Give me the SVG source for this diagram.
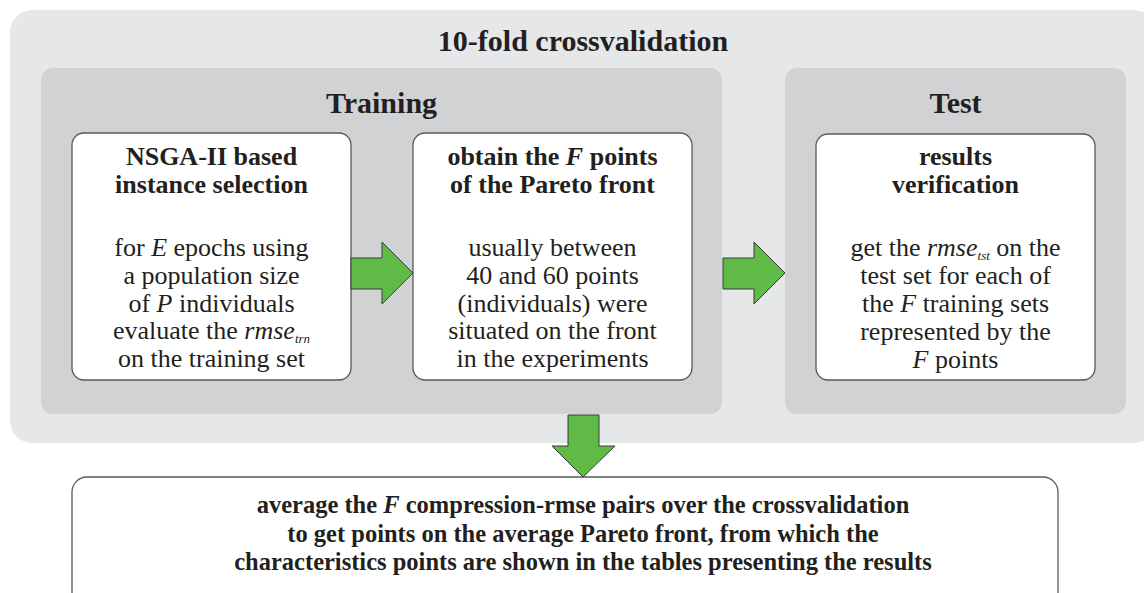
<svg xmlns="http://www.w3.org/2000/svg" width="1144" height="593" viewBox="0 0 1144 593">
<style>
  .outer { fill: #e6e7e8; }
  .panel { fill: #d1d2d4; }
  .box { fill: #ffffff; stroke: #58595b; stroke-width: 1.3; }
  .arrow { fill: #5fba46; stroke: #3a3a3a; stroke-width: 1; stroke-linejoin: miter; }
  text { font-family: "Liberation Serif", "Times New Roman", serif; fill: #231f20; text-anchor: middle; }
  .h1 { font-size: 30px; font-weight: bold; }
  .bt { font-size: 26px; font-weight: bold; }
  .bd { font-size: 26px; }
  .bb { font-size: 24.5px; font-weight: bold; }
  .it { font-style: italic; }
  .sub { font-size: 13px; font-style: italic; }
</style>
<rect class="outer" x="10" y="10" width="1146" height="433" rx="22"/>
<text class="h1" x="583" y="51">10-fold crossvalidation</text>

<g id="training">
  <rect class="panel" x="41" y="68" width="681" height="346" rx="12"/>
  <text class="h1" x="381.5" y="113">Training</text>
</g>
<g id="test">
  <rect class="panel" x="785" y="68" width="341" height="346" rx="12"/>
  <text class="h1" x="955.5" y="113">Test</text>
</g>

<g id="nsga">
  <rect class="box" x="72" y="133" width="279" height="247" rx="12"/>
  <text class="bt" x="211.5" y="165">NSGA-II based</text>
  <text class="bt" x="211.5" y="193">instance selection</text>
  <text class="bd" x="211.5" y="256">for <tspan class="it">E</tspan> epochs using</text>
  <text class="bd" x="211.5" y="284">a population size</text>
  <text class="bd" x="211.5" y="311.5">of <tspan class="it">P</tspan> individuals</text>
  <text class="bd" x="211.5" y="339">evaluate the <tspan class="it">rmse</tspan><tspan class="sub" dy="4">trn</tspan></text>
  <text class="bd" x="211.5" y="367">on the training set</text>
</g>

<g id="pareto">
  <rect class="box" x="413" y="133" width="279" height="247" rx="12"/>
  <text class="bt" x="552.5" y="165">obtain the <tspan class="it">F</tspan> points</text>
  <text class="bt" x="552.5" y="193">of the Pareto front</text>
  <text class="bd" x="552.5" y="256">usually between</text>
  <text class="bd" x="552.5" y="284">40 and 60 points</text>
  <text class="bd" x="552.5" y="311.5">(individuals) were</text>
  <text class="bd" x="552.5" y="339">situated on the front</text>
  <text class="bd" x="552.5" y="367">in the experiments</text>
</g>

<g id="verification">
  <rect class="box" x="816" y="134" width="279" height="246" rx="12"/>
  <text class="bt" x="955.5" y="165">results</text>
  <text class="bt" x="955.5" y="193">verification</text>
  <text class="bd" x="955.5" y="256">get the <tspan class="it">rmse</tspan><tspan class="sub" dy="4">tst</tspan><tspan dy="-4"> on the</tspan></text>
  <text class="bd" x="955.5" y="284">test set for each of</text>
  <text class="bd" x="955.5" y="312">the <tspan class="it">F</tspan> training sets</text>
  <text class="bd" x="955.5" y="340">represented by the</text>
  <text class="bd" x="955.5" y="368"><tspan class="it">F</tspan> points</text>
</g>

<g id="average">
  <rect class="box" x="72" y="477" width="986" height="140" rx="15"/>
  <text class="bb" x="583" y="513">average the <tspan class="it">F</tspan> compression-rmse pairs over the crossvalidation</text>
  <text class="bb" x="583" y="542">to get points on the average Pareto front, from which the</text>
  <text class="bb" x="583" y="570">characteristics points are shown in the tables presenting the results</text>
</g>

<g id="connectors">
  <polygon class="arrow" points="351,258 382,258 382,242 413,273 382,304 382,289 351,289"/>
  <polygon class="arrow" points="723,258 754,258 754,242 785,273 754,304 754,289 723,289"/>
  <polygon class="arrow" points="568,415 599,415 599,446 615,446 583,477 552,446 568,446"/>
</g>
</svg>
